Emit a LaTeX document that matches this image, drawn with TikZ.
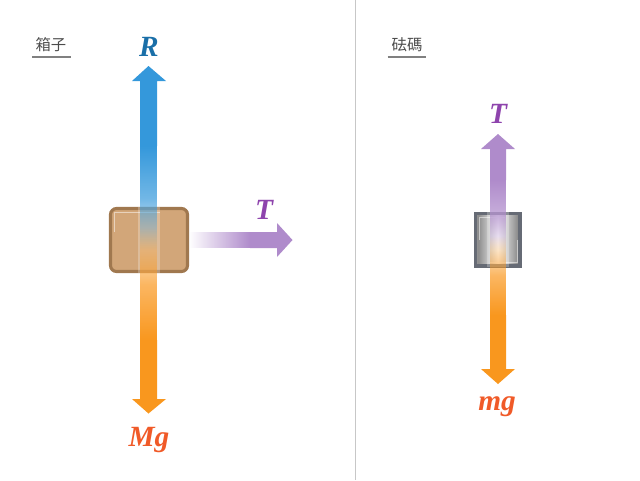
\documentclass[tikz,border=0pt]{standalone}
\usepackage{fontspec}
\setmainfont{Liberation Serif}
\newfontfamily\cjk{Noto Sans CJK TC}
\usetikzlibrary{fadings}
\definecolor{rblue}{HTML}{3498DB}
\definecolor{rlabel}{HTML}{1A6FA8}
\definecolor{tpurple}{HTML}{AF8BCB}
\definecolor{tlabel}{HTML}{8E44AD}
\definecolor{gorange}{HTML}{F9971E}
\definecolor{glabel}{HTML}{F05A28}
\definecolor{boxfill}{HTML}{D2A679}
\definecolor{boxedge}{HTML}{A0784F}
\definecolor{weightedge}{HTML}{666B75}
\tikzfading[name=fade up, top color=transparent!0, bottom color=transparent!100, middle color=transparent!30]
\tikzfading[name=fade down, top color=transparent!100, bottom color=transparent!0, middle color=transparent!30]
\tikzfading[name=fade right, left color=transparent!100, right color=transparent!0]
\pgfdeclarehorizontalshading{weightshade}{100bp}{
  color(0bp)=(white!70!gray); color(10bp)=(white!60!gray); color(28bp)=(gray!90!white);
  color(50bp)=(white); color(72bp)=(gray!90!white); color(90bp)=(gray!90!white); color(100bp)=(white!70!gray)}
\begin{document}
\begin{tikzpicture}[x=0.75pt,y=-0.75pt,
  force label/.style={anchor=base,font=\fontsize{22}{24}\selectfont\bfseries\itshape},
  title node/.style={font=\cjk\fontsize{11.5}{14}\selectfont,text=black!70},
  title line/.style={line width=1.1pt,black!50},
  halo/.style={white,opacity=0.25},
  shine/.style={white,opacity=0.5,line width=1pt}]
\useasboundingbox (0,0) rectangle (640,480);

\draw[black!22,line width=0.8pt] (355.5,0) -- (355.5,480);

\node[title node] (t1) at (51,45) {箱子};
\node[title node] (t2) at (407,45) {砝碼};
\draw[title line] (32,57) -- (70.5,57);
\draw[title line] (387.5,57) -- (425.5,57);

% box
\draw[boxedge,fill=boxfill,line width=2.3pt,rounded corners=4.5pt] (110.5,208.5) rectangle (187.5,271.5);
\draw[shine] (114.5,232) -- (114.5,212.5) -- (160,212.5);

% weight
\shade[shading=weightshade] (475.5,213.5) rectangle (520,266);
\draw[weightedge,line width=2.3pt] (475.5,213.5) rectangle (520,266);
\draw[shine] (479.5,240) -- (479.5,217.5) -- (505,217.5);
\draw[shine] (490,262.5) -- (517.5,262.5) -- (517.5,240);

% halos
\fill[halo] (137.5,207) rectangle (160,273);
\fill[halo] (487,212) rectangle (509,267);

% R
\node[force label,text=rlabel] (nR) at (149,56) {R};
\fill[rblue] (148.5,66) -- (166,81) -- (157,81) -- (157,146) -- (140,146) -- (140,81) -- (132,81) -- cycle;
\fill[rblue,path fading=fade up] (140,146) rectangle (157,250);

% Mg
\node[force label,text=glabel] (nMg) at (149,446) {Mg};
\fill[gorange] (148.5,413.5) -- (166,399) -- (157,399) -- (157,340) -- (140,340) -- (140,399) -- (132,399) -- cycle;
\fill[gorange,path fading=fade down] (140,228) rectangle (157,340);

% T on box
\node[force label,text=tlabel] (nT) at (264,219.5) {T};
\fill[tpurple] (292.5,240) -- (277,223) -- (277,232) -- (250,232) -- (250,248) -- (277,248) -- (277,257) -- cycle;
\fill[tpurple,path fading=fade right] (189,232) rectangle (250,248);

% T on weight
\node[force label,text=tlabel] (nT2) at (498,123.5) {T};
\fill[tpurple] (498,134) -- (515,149) -- (506,149) -- (506,180) -- (490,180) -- (490,149) -- (481,149) -- cycle;
\fill[tpurple,path fading=fade up] (490,180) rectangle (506,250);

% mg
\node[force label,text=glabel] (nmg) at (497,410) {mg};
\fill[gorange] (498,384) -- (515,369) -- (506,369) -- (506,315) -- (490,315) -- (490,369) -- (481,369) -- cycle;
\fill[gorange,path fading=fade down] (490,236) rectangle (506,315);
\end{tikzpicture}
\end{document}
